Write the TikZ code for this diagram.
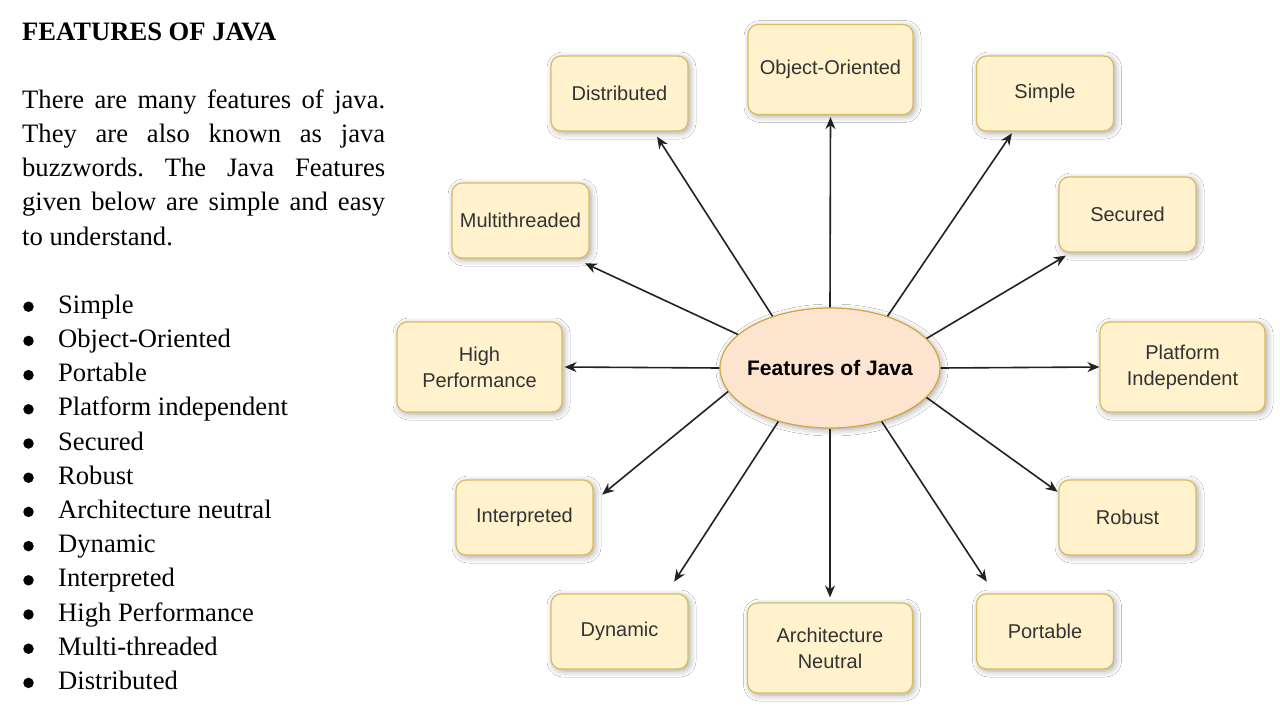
\documentclass[tikz,border=0pt]{standalone}
\usepackage{fontspec}
\setmainfont{Liberation Serif}
\newfontfamily\arial{Liberation Sans}
\usetikzlibrary{arrows.meta,shapes.geometric,shadows.blur}

\definecolor{boxfill}{HTML}{FFF2CC}
\definecolor{boxline}{HTML}{D9BC62}
\definecolor{boxtext}{HTML}{333333}
\definecolor{hubfill}{HTML}{FDE4CF}
\definecolor{hubline}{HTML}{D4A540}
\definecolor{linkcol}{HTML}{222222}

\tikzset{
  softshadow/.style={blur shadow={shadow xshift=2pt, shadow yshift=-2pt,
      shadow blur radius=6pt, shadow blur steps=6, shadow opacity=35}},
  featbox/.style={draw=boxline, fill=boxfill, line width=1.2pt,
      rounded corners=10pt, minimum width=137pt, minimum height=75pt,
      inner sep=0pt, align=center, text=boxtext,
      font=\arial\fontsize{20}{26}\selectfont, softshadow},
  widebox/.style={featbox, minimum width=165pt, minimum height=90pt},
  hub/.style={ellipse, draw=hubline, fill=hubfill, line width=1.2pt,
      minimum width=220pt, minimum height=120pt, inner sep=0pt,
      font=\arial\bfseries\fontsize{21}{25}\selectfont, softshadow},
  link/.style={draw=linkcol, line width=1.6pt,
      -{Stealth[length=12pt,width=10pt]}},
  bodytext/.style={anchor=base west, inner sep=0pt,
      font=\fontsize{26.6}{34.3}\selectfont},
  bulletdot/.style={circle, fill=black, inner sep=0pt, minimum size=10.5pt}
}

\begin{document}
\frenchspacing
\begin{tikzpicture}[x=1pt,y=-1pt]
\useasboundingbox[fill=white] (0,0) rectangle (1280,720);

% ---------- text column ----------
\node[anchor=base west, inner sep=0pt,
      font=\bfseries\fontsize{26.6}{30}\selectfont] (title) at (22,40)
  {FEATURES OF JAVA};

\node[anchor=base west, inner sep=0pt,
      font=\fontsize{26.6}{34.3}\selectfont] (intro) at (22,108)
  {\parbox[t]{363pt}{\fontsize{26.6}{34.3}\selectfont
   There are many features of java.\linebreak
   They are also known as java\linebreak
   buzzwords. The Java Features\linebreak
   given below are simple and easy\linebreak
   to understand.}};

\foreach \txt [count=\i] in {Simple,Object-Oriented,Portable,
    Platform independent,Secured,Robust,Architecture neutral,Dynamic,
    Interpreted,High Performance,Multi-threaded,Distributed}{
  \node[bulletdot] (b\i) at (28.5,{272.5+34.2*\i}) {};
  \node[bodytext] (item\i) at (58,{279+34.2*\i}) {\txt};
}

% ---------- diagram ----------
\node[hub] (hub) at (830,368) {\makebox[0pt]{Features of Java}};

\node[featbox] (dist)   at (619.5,93.5)  {Distributed};
\node[widebox] (oop)    at (830.5,69.5)  {Object-Oriented};
\node[featbox] (simple) at (1045,93.5)   {Simple};
\node[featbox] (multi)  at (520.5,220.5) {Multithreaded};
\node[featbox] (secure) at (1127.5,214.5){Secured};
\node[widebox] (perf)   at (479.5,367)   {High\\Performance};
\node[widebox] (plat)   at (1182.5,367)  {Platform\\Independent};
\node[featbox] (interp) at (524.5,517.5) {Interpreted};
\node[featbox] (robust) at (1127.5,517.5){Robust};
\node[featbox] (dyn)    at (619.5,631.5) {Dynamic};
\node[widebox] (arch)   at (830,648)     {Architecture\\Neutral};
\node[featbox] (port)   at (1045,631.5)  {Portable};

\draw[link, shorten >=6pt]  (hub.138) -- (dist.-48);
\draw[link, shorten >=2pt]  (hub.90)  -- (oop.south);
\draw[link, shorten >=2pt]  (hub.42)  -- (simple.-130);
\draw[link, shorten >=11pt] (hub.160) -- (multi.-35);
\draw[link, shorten >=6pt]  (hub.17)  -- (secure.-146);
\draw[link, shorten >=2pt]  (hub.180) -- (perf.east);
\draw[link, shorten >=0pt]  (hub.0)   -- (plat.west);
\draw[link, shorten >=11pt] (hub.193) -- (interp.13);
\draw[link, shorten >=1pt]  (hub.343) -- (robust.160);
\draw[link, shorten >=14pt] (hub.226) -- (dyn.39);
\draw[link, shorten >=5pt]  (hub.270) -- (arch.north);
\draw[link, shorten >=14pt] (hub.314) -- (port.143);
\end{tikzpicture}
\end{document}
